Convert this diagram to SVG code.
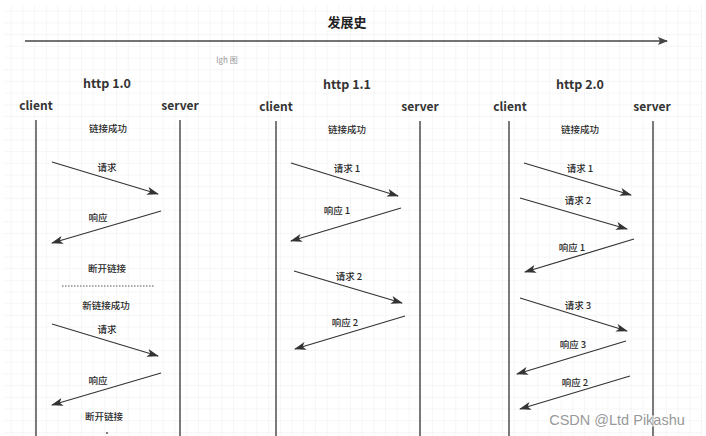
<svg xmlns="http://www.w3.org/2000/svg" width="706" height="436" viewBox="0 0 706 436">
<defs>
<pattern id="grid" width="11.7" height="11.7" patternUnits="userSpaceOnUse">
<path d="M11.7 0V11.7H0" fill="none" stroke="#e9e9e9" stroke-width="0.8"/>
</pattern>
<marker id="ah" markerWidth="12" markerHeight="8" refX="11" refY="4" orient="auto" markerUnits="userSpaceOnUse">
<path d="M0 0L12 4L0 8L3 4Z" fill="#333"/>
</marker>
<marker id="ah2" markerWidth="10" markerHeight="8" refX="9" refY="4" orient="auto" markerUnits="userSpaceOnUse">
<path d="M0 0L10 4L0 8L2 4Z" fill="#444"/>
</marker>
</defs>
<style>
text{font-family:"Noto Sans CJK SC","Noto Sans",sans-serif;fill:#333;text-anchor:middle}
.t{font-size:13px;font-weight:bold;fill:#222}
.v{font-size:12.5px;font-weight:bold;fill:#333}
.r{font-size:12px;font-weight:bold;fill:#333}
.l{font-size:9.5px;font-weight:500;fill:#2a2a2a}
.life{stroke:#333;stroke-width:1.3}
.msg{stroke:#333;stroke-width:1.2;fill:none;marker-end:url(#ah)}
</style>
<rect width="706" height="436" fill="#fff"/>
<rect x="4" y="5" width="698" height="431" fill="url(#grid)"/>
<text class="t" x="347" y="27">发展史</text>
<g id="connectors">
<line x1="25" y1="41" x2="667" y2="41" stroke="#444" stroke-width="1.4" marker-end="url(#ah2)"/>
<line class="life" x1="36" y1="120" x2="36" y2="436"/>
<line class="life" x1="180" y1="120" x2="180" y2="436"/>
<line class="life" x1="276" y1="121" x2="276" y2="436"/>
<line class="life" x1="420" y1="121" x2="420" y2="436"/>
<line class="life" x1="509" y1="121" x2="509" y2="436"/>
<line class="life" x1="653" y1="121" x2="653" y2="436"/>
<line x1="62" y1="286" x2="155" y2="286" stroke="#555" stroke-width="1" stroke-dasharray="1.5 1.5"/>
<line class="msg" x1="52" y1="162" x2="158" y2="194"/>
<line class="msg" x1="161" y1="211" x2="52" y2="243"/>
<line class="msg" x1="52" y1="324" x2="158" y2="356"/>
<line class="msg" x1="161" y1="373" x2="52" y2="405"/>
<line class="msg" x1="291" y1="163" x2="398" y2="196"/>
<line class="msg" x1="401" y1="208" x2="291" y2="241"/>
<line class="msg" x1="294" y1="271" x2="402" y2="303"/>
<line class="msg" x1="405" y1="316" x2="295" y2="349"/>
<line class="msg" x1="524" y1="163" x2="631" y2="195"/>
<line class="msg" x1="520" y1="198" x2="627" y2="229"/>
<line class="msg" x1="634" y1="239" x2="525" y2="272"/>
<line class="msg" x1="520" y1="298" x2="627" y2="331"/>
<line class="msg" x1="626" y1="341" x2="517" y2="374"/>
<line class="msg" x1="630" y1="376" x2="520" y2="409"/>
</g>
<text x="227" y="63" style="font-size:8px;fill:#999">lgh 图</text>
<g id="http10">
<text class="v" x="107" y="88">http 1.0</text>
<text class="r" x="36" y="110">client</text>
<text class="r" x="180" y="110">server</text>
<text class="l" x="108" y="132">链接成功</text>
<text class="l" x="107" y="171">请求</text>
<text class="l" x="98" y="221">响应</text>
<text class="l" x="107" y="272">断开链接</text>
<text class="l" x="106" y="309">新链接成功</text>
<text class="l" x="107" y="333">请求</text>
<text class="l" x="98" y="384">响应</text>
<text class="l" x="104" y="420">断开链接</text>
<circle cx="107" cy="433" r="0.9" fill="#444"/>
</g>
<g id="http11">
<text class="v" x="347" y="89">http 1.1</text>
<text class="r" x="276" y="111">client</text>
<text class="r" x="420" y="111">server</text>
<text class="l" x="347" y="133">链接成功</text>
<text class="l" x="347" y="172">请求 1</text>
<text class="l" x="337" y="214">响应 1</text>
<text class="l" x="349" y="280">请求 2</text>
<text class="l" x="345" y="326">响应 2</text>
</g>
<g id="http20">
<text class="v" x="580" y="89">http 2.0</text>
<text class="r" x="510" y="111">client</text>
<text class="r" x="652" y="111">server</text>
<text class="l" x="580" y="133">链接成功</text>
<text class="l" x="580" y="172">请求 1</text>
<text class="l" x="578" y="204">请求 2</text>
<text class="l" x="572" y="251">响应 1</text>
<text class="l" x="578" y="309">请求 3</text>
<text class="l" x="573" y="348">响应 3</text>
<text class="l" x="575" y="386">响应 2</text>
</g>
<text x="617" y="425" style="font-family:'Liberation Sans',Arial,sans-serif;font-size:14.5px;fill:#fff;stroke:#fff;stroke-width:3;opacity:0.7">CSDN @Ltd Pikashu</text>
<text x="617" y="425" style="font-family:'Liberation Sans',Arial,sans-serif;font-size:14.5px;fill:#999">CSDN @Ltd Pikashu</text>
</svg>
